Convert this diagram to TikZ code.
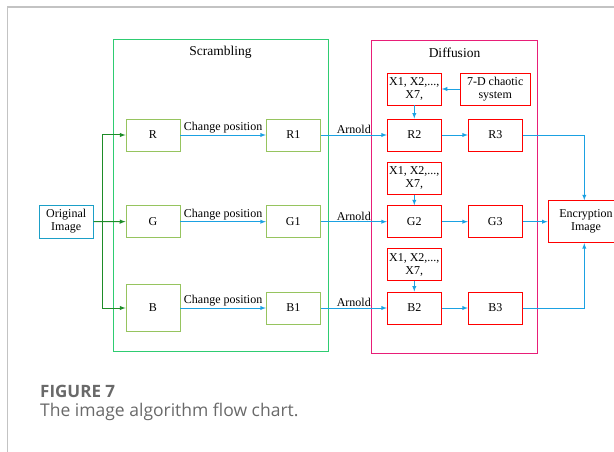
\documentclass[tikz,border=0pt]{standalone}
\usepackage{fontspec}
\setmainfont{Liberation Serif}
\newfontfamily\capfont{Open Sans}
\usepackage{tikz}
\usetikzlibrary{arrows,shapes}
\usetikzlibrary{calc}

\definecolor{scrgreen}{RGB}{46,204,113}
\definecolor{boxgreen}{RGB}{150,196,95}
\definecolor{darkgr}{RGB}{30,140,40}
\definecolor{arrblue}{RGB}{27,161,226}
\definecolor{difpink}{RGB}{232,30,120}
\definecolor{origblue}{RGB}{27,159,199}
\definecolor{capgray}{RGB}{105,105,105}
\definecolor{framegray}{RGB}{195,195,195}

\begin{document}
\begin{tikzpicture}[x=1pt, y=-1pt, >=latex,
	gbox/.style={draw=boxgreen, line width=0.9pt, minimum width=54pt, minimum height=32pt, inner sep=0pt, font=\fontsize{12}{13}\selectfont},
	rbox/.style={draw=red, line width=0.9pt, minimum width=54pt, minimum height=32pt, inner sep=0pt, align=center, font=\fontsize{12}{13}\selectfont},
	barrow/.style={->, draw=arrblue, line width=0.9pt},
	garrow/.style={->, draw=darkgr, line width=1pt},
	lbl/.style={font=\fontsize{12}{13}\selectfont, inner sep=1pt}]
	\useasboundingbox (0,0) rectangle (614,452);
	\draw[framegray, line width=1.5pt] (7.5,460) -- (7.5,7) -- (620,7);

	% the two stages
	\draw[scrgreen, line width=0.9pt] (113,39) rectangle (328,351);
	\node[font=\fontsize{13.5}{14}\selectfont] (scr) at (220.5,52) {Scrambling};
	\draw[difpink, line width=0.9pt] (371.7,40.7) rectangle (537.3,353);
	\node[font=\fontsize{13.5}{14}\selectfont] (dif) at (454.5,53) {Diffusion};

	\node[draw=origblue, line width=0.9pt, minimum width=54pt, minimum height=33pt, inner sep=0pt, align=center,
		font=\fontsize{12}{13}\selectfont] (orig) at (66.2,221.5) {Original\\Image};
	\node[rbox, minimum width=76pt, minimum height=42pt] (enc) at (586,221.7) {Encryption\\Image};
	\node[rbox, minimum width=70pt] (chaos) at (495.2,89) {7-D chaotic\\system};

	\foreach \c/\y/\xy/\h in {R/135/89/32, G/221.7/178.3/32, B/308/264.5/47} {
		\node[gbox, minimum height=\h pt] (\c) at (153,\y) {\c};
		\node[gbox] (\c1) at (293.3,\y) {\c1};
		\node[rbox] (\c2) at (414.3,\y) {\c2};
		\node[rbox] (\c3) at (495.3,\y) {\c3};
		\node[rbox] (x\c) at (414.3,\xy) {X1, X2,..., \\ X7,};
		\draw[barrow] (\c) -- (\c1) node[lbl, midway, above] {Change position};
		\draw[barrow] (\c1) -- (\c2) node[lbl, midway, above] {Arnold};
		\draw[barrow] (\c2) -- (\c3);
		\draw[barrow] (x\c) -- (\c2);
	}
	\draw[barrow] (chaos) -- (xR);

	\draw[garrow] (orig.east) -- ++(8.4,0) |- (R.west);
	\draw[garrow] (orig.east) -- ++(8.4,0) |- (B.west);
	\draw[garrow] (orig) -- (G);

	\coordinate (down) at (584.3,135);
	\draw[barrow] (R3.east) -- (down) -- (down |- enc.north);
	\draw[barrow] (G3) -- (G3 -| enc.west);
	\draw[barrow] (B3.east) -- (down |- B3) -- (down |- enc.south);

	% caption
	\node[anchor=base west, inner sep=0pt, text=capgray, font=\capfont\bfseries\fontsize{17}{19}\selectfont] (fig) at (40,397.5) {FIGURE 7};
	\node[anchor=base west, inner sep=0pt, text=capgray, font=\capfont\fontsize{17.5}{19}\selectfont] (cap) at (40,416) {The image algorithm flow chart.};
\end{tikzpicture}
\end{document}
